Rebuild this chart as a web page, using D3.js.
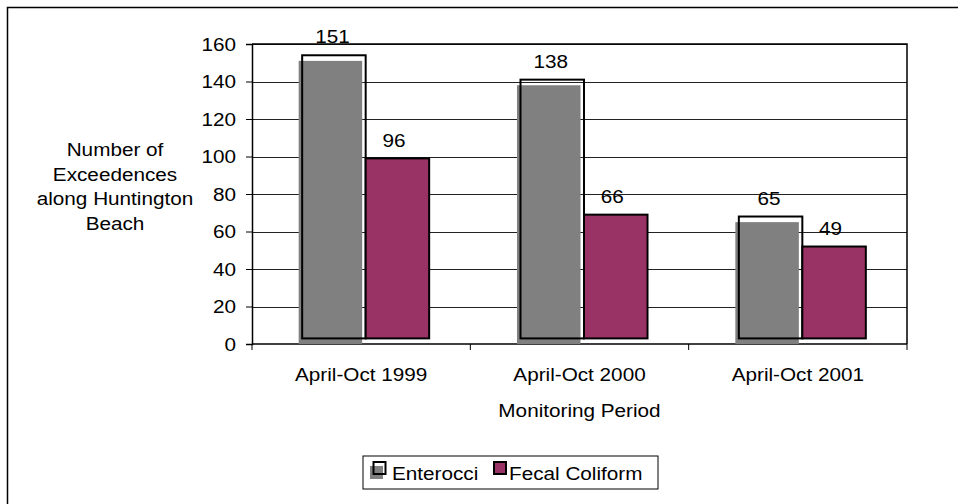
<!DOCTYPE html>
<html>
<head>
<meta charset="utf-8">
<script src="https://cdn.jsdelivr.net/npm/d3@7"></script>
<style>
  html, body { margin: 0; padding: 0; background: #fff; }
  svg { display: block; font-family: "Liberation Sans", Arial, sans-serif; }
</style>
</head>
<body>
<svg id="chart" width="958" height="504"></svg>
<script>
// Exceedences per monitoring season
const periods = ["April-Oct 1999", "April-Oct 2000", "April-Oct 2001"];
const enterocci = [151, 138, 65];
const fecalColiform = [96, 66, 49];
const yTicks = [0, 20, 40, 60, 80, 100, 120, 140, 160];
const seriesNames = ["Enterocci", "Fecal Coliform"];
const yTitleLines = ["Number of", "Exceedences", "along Huntington", "Beach"];
const xTitle = "Monitoring Period";

const svg = d3.select("#chart");
const FONT = 18.5, STRETCH = 1.12;

// wide-set text: anchored at (x, y) and widened slightly
function label(g, x, y, text, anchor = "middle") {
  return g.append("text")
    .attr("transform", `translate(${x},${y}) scale(${STRETCH},1)`)
    .attr("text-anchor", anchor)
    .attr("font-size", FONT).attr("fill", "#000")
    .text(text);
}

// outer chart frame (runs off the right and bottom edges)
svg.append("path")
  .attr("d", "M7.5,504 V7.5 H958")
  .attr("fill", "none").attr("stroke", "#000").attr("stroke-width", 1.5);

const plot = { left: 252, right: 907, top: 44, bottom: 344 };

const x = d3.scaleBand().domain(periods).range([plot.left, plot.right]).padding(0);
const y = d3.scaleLinear().domain([0, 160]).range([plot.bottom, plot.top]);

const barW = 63.5;
const lift = { dx: 4.5, dy: -5.6 };   // raised front face of each bar
const shadowDx = 1;

// gridlines
svg.append("g").selectAll("line").data(yTicks.filter(d => d > 0)).join("line")
  .attr("x1", plot.left).attr("x2", plot.right)
  .attr("y1", d => Math.round(y(d)) + 0.5).attr("y2", d => Math.round(y(d)) + 0.5)
  .attr("stroke", "#222").attr("stroke-width", 1);

// y axis (line + ticks from d3, labels set wide)
const yAxis = d3.axisLeft(y).tickValues(yTicks).tickSize(6).tickFormat("");
const gy = svg.append("g").attr("transform", `translate(${plot.left},0)`).call(yAxis);
gy.select(".domain").attr("stroke", "#000").attr("stroke-width", 1.5);
gy.selectAll(".tick line").attr("stroke", "#000");
const gyl = svg.append("g");
yTicks.forEach(v => label(gyl, 236, y(v) + 6.5, String(v), "end"));

// x axis with boundary ticks between periods
const gx = svg.append("g").attr("transform", `translate(0,${plot.bottom})`);
gx.append("line").attr("x1", plot.left).attr("x2", plot.right)
  .attr("y1", 0).attr("y2", 0).attr("stroke", "#000").attr("stroke-width", 1.5);
const bounds = periods.map(p => x(p)).concat([x(periods[periods.length - 1]) + x.bandwidth()]);
gx.selectAll("line.b").data(bounds).join("line").attr("class", "b")
  .attr("x1", d => d).attr("x2", d => d).attr("y1", 0).attr("y2", 6)
  .attr("stroke", "#000").attr("stroke-width", 1);
const gxl = svg.append("g");
periods.forEach(p => label(gxl, x(p) + x.bandwidth() / 2, plot.bottom + 37, p));

// plot area border on top and right
svg.append("path")
  .attr("d", `M${plot.left},${plot.top} H${plot.right} V${plot.bottom}`)
  .attr("fill", "none").attr("stroke", "#000").attr("stroke-width", 1.5);

const bars = svg.append("g");
const center = d => x(d) + x.bandwidth() / 2;

// Enterocci: grey shadow with an unfilled raised outline
bars.selectAll("rect.ent-shadow").data(periods).join("rect").attr("class", "ent-shadow")
  .attr("x", d => center(d) - barW + shadowDx)
  .attr("y", (d, i) => y(enterocci[i]))
  .attr("width", barW)
  .attr("height", (d, i) => y(0) - y(enterocci[i]))
  .attr("fill", "#808080");

bars.selectAll("rect.ent").data(periods).join("rect").attr("class", "ent")
  .attr("x", d => center(d) - barW + lift.dx)
  .attr("y", (d, i) => y(enterocci[i]) + lift.dy)
  .attr("width", barW)
  .attr("height", (d, i) => y(0) - y(enterocci[i]))
  .attr("fill", "none").attr("stroke", "#000").attr("stroke-width", 2);

// Fecal Coliform: filled bar
bars.selectAll("rect.fec").data(periods).join("rect").attr("class", "fec")
  .attr("x", d => center(d) + lift.dx)
  .attr("y", (d, i) => y(fecalColiform[i]) + lift.dy)
  .attr("width", barW)
  .attr("height", (d, i) => y(0) - y(fecalColiform[i]))
  .attr("fill", "#993366").attr("stroke", "#000").attr("stroke-width", 2);

// value labels
const labels = svg.append("g");
periods.forEach((p, i) => {
  label(labels, center(p) - barW / 2 + 3, y(enterocci[i]) - 17.5, String(enterocci[i]));
  label(labels, center(p) + barW / 2 + 1, y(fecalColiform[i]) - 17.5, String(fecalColiform[i]));
});

// axis titles
const titles = svg.append("g");
yTitleLines.forEach((t, i) => label(titles, 115, 156 + i * 24.5, t));
label(titles, (plot.left + plot.right) / 2, 417, xTitle);

// legend
const lg = svg.append("g");
lg.append("rect").attr("x", 363).attr("y", 456).attr("width", 295).attr("height", 33)
  .attr("fill", "#fff").attr("stroke", "#000").attr("stroke-width", 1);
lg.append("rect").attr("x", 370).attr("y", 466).attr("width", 13).attr("height", 13).attr("fill", "#808080");
lg.append("rect").attr("x", 373.5).attr("y", 462).attr("width", 12).attr("height", 12)
  .attr("fill", "none").attr("stroke", "#000").attr("stroke-width", 2);
lg.append("rect").attr("x", 494).attr("y", 462).attr("width", 12).attr("height", 12)
  .attr("fill", "#993366").attr("stroke", "#000").attr("stroke-width", 2);
label(lg, 392, 480, seriesNames[0], "start");
label(lg, 509, 480, seriesNames[1], "start");
</script>
</body>
</html>
